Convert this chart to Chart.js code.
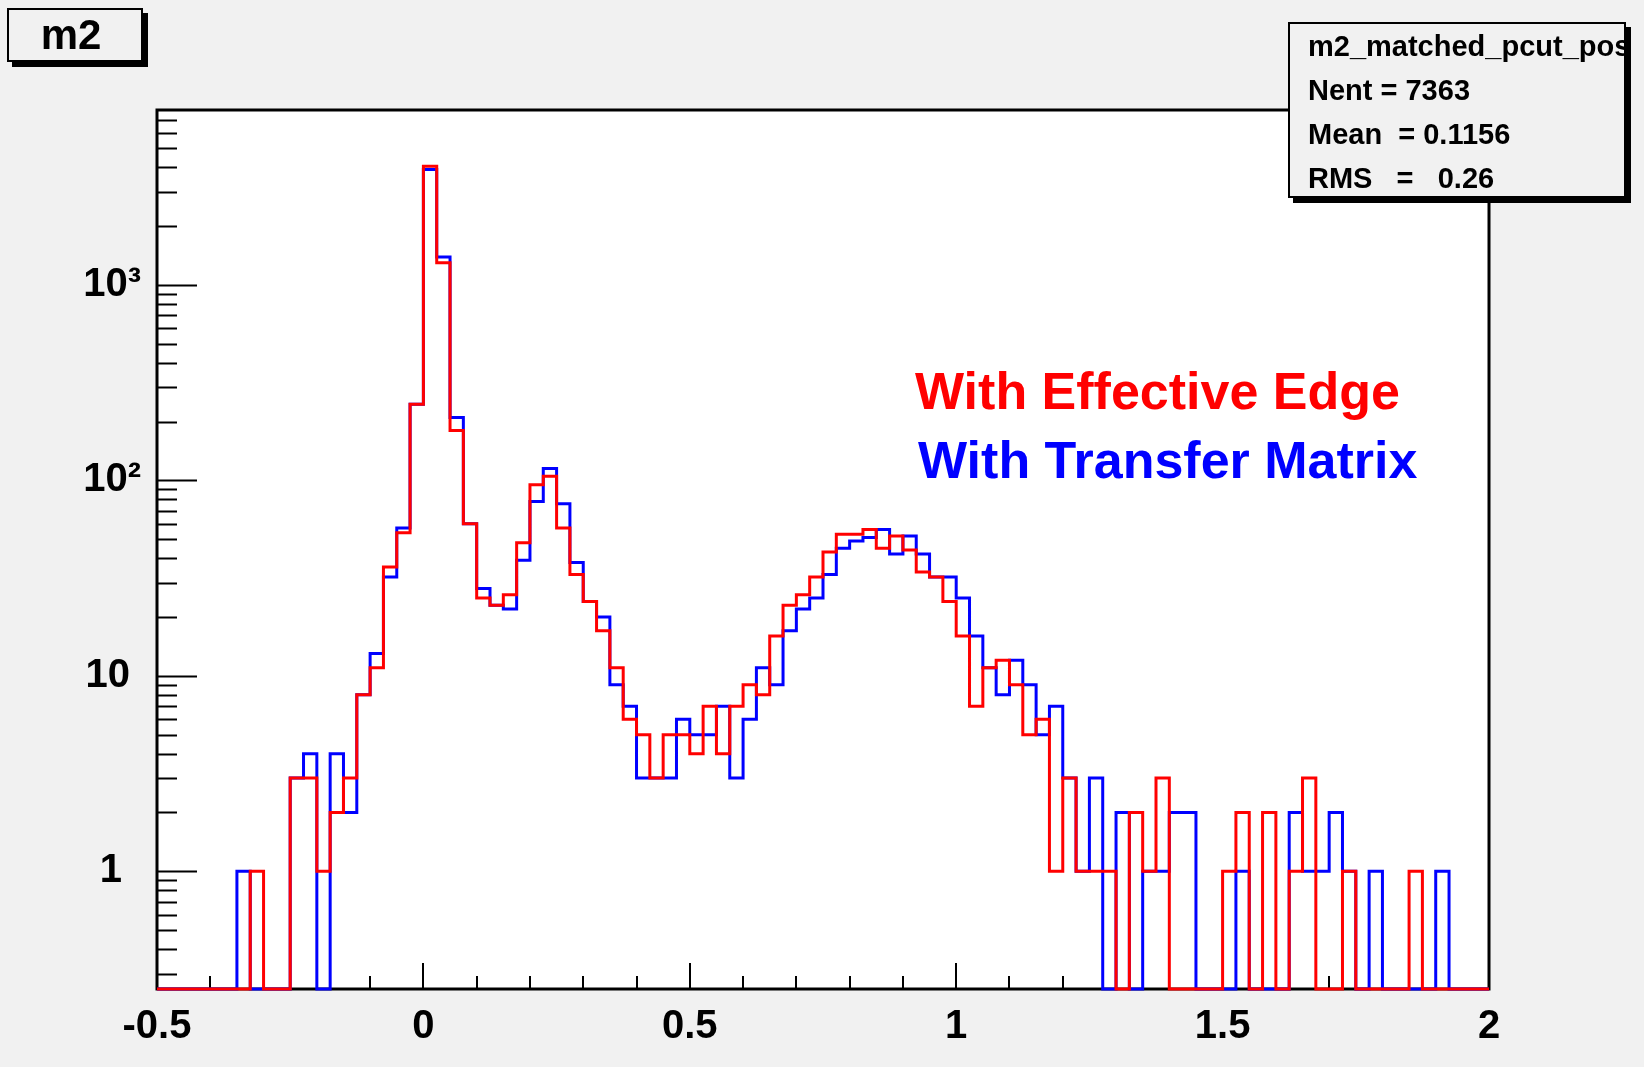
<!DOCTYPE html>
<html>
<head>
<meta charset="utf-8">
<title>m2</title>
<script src="https://cdn.jsdelivr.net/npm/chart.js@4.4.1/dist/chart.umd.min.js"></script>
<style>
  body { margin: 0; background: #f1f1f1; }
  #wrap { position: relative; width: 1644px; height: 1067px; overflow: hidden; font-family: "Liberation Sans", Arial, sans-serif; }
  #c { position: absolute; left: 0; top: 0; }
  .box { position: absolute; background: #f1f1f1; border: 2px solid #000; box-shadow: 5px 5px 0 #000; box-sizing: border-box; }
  #title { left: 7px; top: 8px; width: 136px; height: 54px; font-weight: bold; font-size: 42px; line-height: 50px; padding-right: 8px; text-align: center; }
  #stats { left: 1288px; top: 22px; width: 338px; height: 176px; overflow: hidden; font-weight: bold; font-size: 29px; line-height: 44px; padding-left: 18px; white-space: pre; }
  .note { position: absolute; font-weight: bold; font-size: 52px; line-height: 52px; white-space: pre; }
</style>
</head>
<body>
<div id="wrap">
  <canvas id="c" width="1644" height="1067"></canvas>
  <div class="box" id="title">m2</div>
  <div class="box" id="stats"><div>m2_matched_pcut_pos</div><div>Nent = 7363</div><div>Mean  = 0.1156</div><div>RMS   =   0.26</div></div>
  <div class="note" style="left:915px; top:365px; color:#ff0000;">With Effective Edge</div>
  <div class="note" style="left:918px; top:434px; color:#0000ff;">With Transfer Matrix</div>
</div>
<script>
// histogram binning: 100 bins from -0.5 to 2
var binLow = -0.5;
var binWidth = 0.025;

// "With Transfer Matrix" (blue)
var blueCounts = [
  0, 0, 0, 0, 0, 0, 1, 0, 0, 0,
  3, 4, 0, 4, 2, 8, 13, 32, 57, 245,
  3900, 1390, 210, 60, 28, 23, 22, 39, 78, 115,
  76, 38, 24, 20, 9, 7, 3, 3, 3, 6,
  5, 5, 7, 3, 6, 11, 9, 17, 22, 25,
  33, 45, 49, 51, 56, 42, 52, 42, 32, 32,
  25, 16, 11, 8, 12, 9, 5, 7, 3, 1,
  3, 0, 2, 0, 1, 1, 2, 2, 0, 0,
  0, 1, 0, 0, 0, 2, 1, 1, 2, 1,
  0, 1, 0, 0, 0, 0, 1, 0, 0, 0
];

// "With Effective Edge" (red)
var redCounts = [
  0, 0, 0, 0, 0, 0, 0, 1, 0, 0,
  3, 3, 1, 2, 3, 8, 11, 36, 54, 245,
  4050, 1300, 180, 60, 25, 23, 26, 48, 95, 105,
  57, 33, 24, 17, 11, 6, 5, 3, 5, 5,
  4, 7, 4, 7, 9, 8, 16, 23, 26, 32,
  43, 53, 53, 56, 45, 52, 44, 34, 32, 24,
  16, 7, 11, 12, 9, 5, 6, 1, 3, 1,
  1, 1, 0, 2, 1, 3, 0, 0, 0, 0,
  1, 2, 0, 2, 0, 1, 3, 0, 0, 1,
  0, 0, 0, 0, 1, 0, 0, 0, 0, 0
];

var xTickValues = [-0.5, 0, 0.5, 1, 1.5, 2];
var xTickLabels = ['-0.5', '0', '0.5', '1', '1.5', '2'];
var yTickValues = [1, 10, 100, 1000];
var yTickLabels = ['1', '10', '10\u00b2', '10\u00b3'];

var yMin = 0.25, yMax = 7850;

// one point per low bin edge plus the closing edge; empty bins sit on the frame bottom
function histPoints(counts) {
  var pts = [];
  for (var i = 0; i < counts.length; i++) {
    pts.push({ x: binLow + i * binWidth, y: counts[i] > 0 ? counts[i] : yMin });
  }
  var last = counts[counts.length - 1];
  pts.push({ x: binLow + counts.length * binWidth, y: last > 0 ? last : yMin });
  return pts;
}

var rootFrame = {
  id: 'rootFrame',
  beforeDraw: function(chart) {
    var ctx = chart.ctx, a = chart.chartArea;
    ctx.save();
    ctx.fillStyle = '#f1f1f1';
    ctx.fillRect(0, 0, chart.width, chart.height);
    ctx.fillStyle = '#ffffff';
    ctx.fillRect(a.left, a.top, a.right - a.left, a.bottom - a.top);
    ctx.restore();
  },
  beforeDatasetsDraw: function(chart) {
    var ctx = chart.ctx, a = chart.chartArea;
    var xs = chart.scales.x, ys = chart.scales.y;
    ctx.save();
    ctx.strokeStyle = '#000';
    ctx.lineWidth = 3;
    ctx.strokeRect(a.left, a.top, a.right - a.left, a.bottom - a.top);
    ctx.lineWidth = 2;
    ctx.beginPath();
    // log axis ticks, inside the frame
    for (var e = -1; e <= 4; e++) {
      for (var k = 1; k <= 9; k++) {
        var v = k * Math.pow(10, e);
        if (v < yMin || v > yMax) continue;
        var y = Math.round(ys.getPixelForValue(v)) + 0.5;
        ctx.moveTo(a.left, y);
        ctx.lineTo(a.left + (k === 1 ? 40 : 20), y);
      }
    }
    // x ticks every 0.1, longer every 0.5
    for (var j = -5; j <= 20; j++) {
      var x = Math.round(xs.getPixelForValue(j / 10));
      ctx.moveTo(x, a.bottom);
      ctx.lineTo(x, a.bottom - (j % 5 === 0 ? 26 : 13));
    }
    ctx.stroke();
    ctx.restore();
  }
};

Chart.defaults.font.family = '"Liberation Sans", Arial, sans-serif';
Chart.defaults.color = '#000';

new Chart(document.getElementById('c'), {
  type: 'line',
  data: {
    datasets: [
      {
        label: 'With Effective Edge',
        data: histPoints(redCounts),
        borderColor: '#ff0000',
        borderWidth: 3,
        stepped: 'before',
        pointRadius: 0,
        fill: false,
        clip: false,
        order: 1
      },
      {
        label: 'With Transfer Matrix',
        data: histPoints(blueCounts),
        borderColor: '#0000ff',
        borderWidth: 3,
        stepped: 'before',
        pointRadius: 0,
        fill: false,
        clip: false,
        order: 2
      }
    ]
  },
  options: {
    responsive: false,
    animation: false,
    devicePixelRatio: 1,
    layout: { padding: { left: 0, top: 110, right: 155, bottom: 0 } },
    plugins: { legend: { display: false }, tooltip: { enabled: false }, title: { display: false } },
    scales: {
      x: {
        type: 'linear',
        min: -0.5,
        max: 2,
        grid: { display: false, drawTicks: false },
        border: { display: false },
        afterBuildTicks: function(s) { s.ticks = xTickValues.map(function(v) { return { value: v }; }); },
        afterFit: function(s) { s.height = 78; },
        ticks: {
          autoSkip: false,
          maxRotation: 0,
          padding: 14,
          font: { size: 40, weight: 'bold' },
          callback: function(value) { return xTickLabels[xTickValues.indexOf(value)]; }
        }
      },
      y: {
        type: 'logarithmic',
        min: yMin,
        max: yMax,
        grid: { display: false, drawTicks: false },
        border: { display: false },
        afterBuildTicks: function(s) { s.ticks = yTickValues.map(function(v) { return { value: v }; }); },
        afterFit: function(s) { s.width = 157; },
        ticks: {
          autoSkip: false,
          padding: 16,
          font: { size: 40, weight: 'bold' },
          callback: function(value) {
            var lab = yTickLabels[yTickValues.indexOf(value)];
            if (lab === '1') return '1\u2009 ';
            if (lab === '10') return '10 ';
            return lab;
          }
        }
      }
    }
  },
  plugins: [rootFrame]
});
</script>
</body>
</html>
